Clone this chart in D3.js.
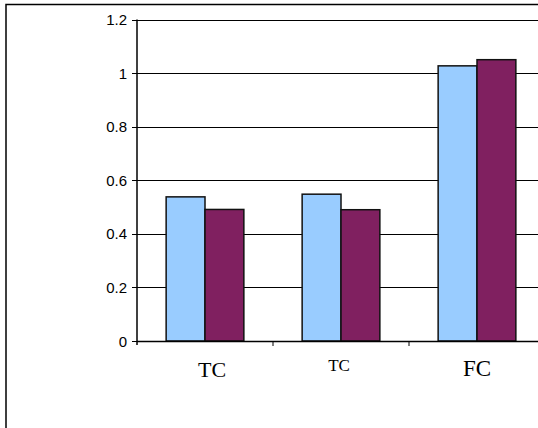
<!DOCTYPE html>
<html><head><meta charset="utf-8">
<script src="https://cdn.jsdelivr.net/npm/d3@7"></script>
<style>html,body{margin:0;padding:0;background:#fff;overflow:hidden}</style>
</head><body>
<script>
const categories = ["TC", "TC", "FC"];
const series1 = [0.538, 0.548, 1.027];
const series2 = [0.491, 0.490, 1.050];
const yTicks = [0, 0.2, 0.4, 0.6, 0.8, 1, 1.2];
const yTickLabels = ["0", "0.2", "0.4", "0.6", "0.8", "1", "1.2"];

const W = 538, H = 428;
const svg = d3.select("body").append("svg").attr("width", W).attr("height", H);

// label styling (per category)
const labelStyle = [
  {size: 22, dx: 7, base: 377},
  {size: 17, dx: -2, base: 371},
  {size: 23, dx: 0, base: 376}
];

// outer border
svg.append("rect").attr("x", 6).attr("y", 4.5).attr("width", 600).attr("height", 600)
  .attr("fill", "none").attr("stroke", "#000").attr("stroke-width", 1.5);

const pLeft = 137, pRight = 545, pTop = 19.5, pBottom = 341;
const x = d3.scaleBand().domain(d3.range(categories.length)).range([pLeft, pRight]).paddingInner(0).paddingOuter(0);
const y = d3.scaleLinear().domain([0, 1.2]).range([pBottom, pTop]);

// gridlines
svg.append("g").selectAll("line").data(yTicks.slice(1)).join("line")
  .attr("x1", pLeft).attr("x2", pRight)
  .attr("y1", d => Math.round(y(d)) + 0.5).attr("y2", d => Math.round(y(d)) + 0.5)
  .attr("stroke", "#000").attr("stroke-width", 1);

// bars
const bw = x.bandwidth() / 3.5;
const g = svg.append("g");
categories.forEach((c, i) => {
  const cx = x(i) + x.bandwidth() / 2;
  [[series1[i], "#99CCFF", cx - bw], [series2[i], "#802060", cx]].forEach(([v, col, bx]) => {
    g.append("rect").attr("x", bx).attr("y", y(v)).attr("width", bw).attr("height", y(0) - y(v))
      .attr("fill", col).attr("stroke", "#111").attr("stroke-width", 1.5);
  });
});

// y axis
svg.append("line").attr("x1", pLeft).attr("x2", pLeft).attr("y1", pTop).attr("y2", pBottom + 4)
  .attr("stroke", "#000").attr("stroke-width", 1.5);
svg.append("g").selectAll("line").data(yTicks).join("line")
  .attr("x1", pLeft - 5).attr("x2", pLeft).attr("y1", d => Math.round(y(d)) + 0.5).attr("y2", d => Math.round(y(d)) + 0.5)
  .attr("stroke", "#000");
svg.append("g").selectAll("text").data(yTicks).join("text")
  .attr("x", 127).attr("y", d => y(d) + 5.5)
  .attr("text-anchor", "end").attr("font-family", "Liberation Sans, Arial, sans-serif").attr("font-size", 15)
  .text((d, i) => yTickLabels[i]);

// x axis
svg.append("line").attr("x1", pLeft).attr("x2", pRight).attr("y1", pBottom + 0.5).attr("y2", pBottom + 0.5)
  .attr("stroke", "#000").attr("stroke-width", 1.5);
svg.append("g").selectAll("line").data(d3.range(1, categories.length)).join("line")
  .attr("x1", d => x(d)).attr("x2", d => x(d)).attr("y1", pBottom).attr("y2", pBottom + 5)
  .attr("stroke", "#000");
svg.append("g").selectAll("text").data(categories).join("text")
  .attr("x", (d, i) => x(i) + x.bandwidth() / 2 + labelStyle[i].dx)
  .attr("y", (d, i) => labelStyle[i].base)
  .attr("text-anchor", "middle").attr("font-family", "Liberation Serif, 'Times New Roman', serif")
  .attr("font-size", (d, i) => labelStyle[i].size)
  .text(d => d);
</script>
</body></html>
